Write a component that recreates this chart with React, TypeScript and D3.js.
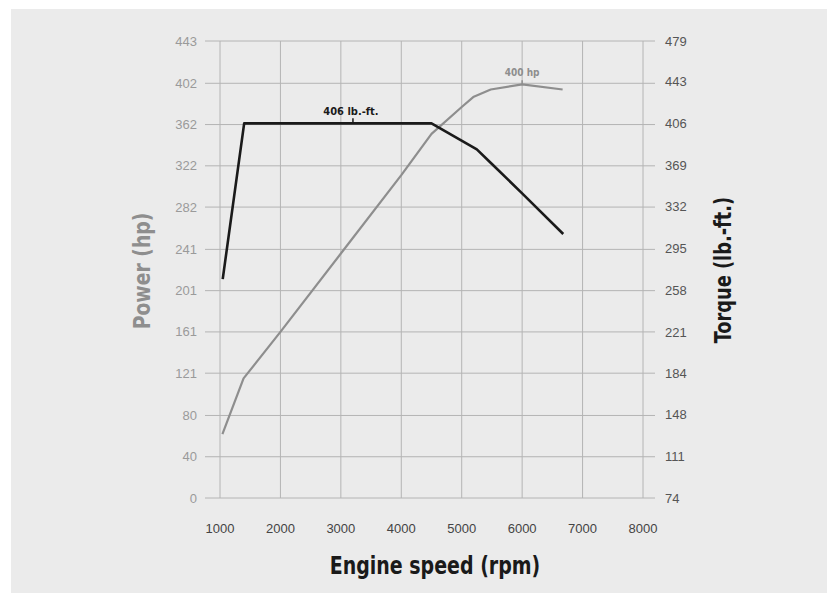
import React, { useEffect, useRef } from "react";
import * as d3 from "d3";

// engine speed (rpm) ticks
const rpmTicks = [1000, 2000, 3000, 4000, 5000, 6000, 7000, 8000];
// left axis (hp) and right axis (lb.-ft.) tick labels
const powerTicks = [0, 40, 80, 121, 161, 201, 241, 282, 322, 362, 402, 443];
const torqueTicks = [74, 111, 148, 184, 221, 258, 295, 332, 369, 406, 443, 479];

// power curve
const powerRpm = [1040, 1390, 2000, 3000, 4000, 4500, 5000, 5200, 5480, 6000, 6670];
const powerHp = [62, 116, 161, 237, 313, 353, 379, 389, 396, 401, 396];

// torque curve
const torqueRpm = [1045, 1400, 4500, 5250, 5500, 6000, 6680];
const torqueLbft = [268, 406, 406, 383, 370, 344, 308];

const condensed = "'DejaVu Sans Condensed', 'Liberation Sans Narrow', 'Roboto', sans-serif";
const tickFont = "'Liberation Sans', 'Open Sans', sans-serif";

export default function App() {
  const svgRef = useRef<SVGSVGElement>(null);

  useEffect(() => {
    if (!svgRef.current) return;
    const svg = d3.select(svgRef.current);
    svg.selectAll("*").remove();

    const width = 827;
    const height = 595;

    // panel background
    svg.append("rect").attr("width", width).attr("height", height).attr("fill", "#ffffff");
    svg.append("rect")
      .attr("x", 11).attr("y", 9)
      .attr("width", width - 11).attr("height", 584)
      .attr("fill", "#ebebeb");

    const x = d3.scaleLinear().domain([1000, 8000]).range([220, 643]);
    const yPower = d3.scaleLinear().domain([0, 443]).range([498, 41]);
    const yTorque = d3.scaleLinear().domain([74, 479]).range([498, 41]);

    const grid = svg.append("g").attr("stroke", "#b4b4b4").attr("stroke-width", 1);

    // horizontal grid lines (extend as ticks both sides)
    powerTicks.forEach((t) => {
      grid.append("line")
        .attr("x1", 205).attr("x2", 655)
        .attr("y1", yPower(t)).attr("y2", yPower(t));
    });
    // vertical grid lines
    rpmTicks.forEach((t) => {
      grid.append("line")
        .attr("x1", x(t)).attr("x2", x(t))
        .attr("y1", yPower(443)).attr("y2", yPower(0));
    });

    // left tick labels
    svg.append("g")
      .selectAll("text")
      .data(powerTicks)
      .join("text")
      .attr("x", 197)
      .attr("y", (d) => yPower(d))
      .attr("dy", "0.35em")
      .attr("text-anchor", "end")
      .attr("fill", "#9a9a9a")
      .style("font-family", tickFont)
      .style("font-size", "13px")
      .text((d) => d);

    // right tick labels
    svg.append("g")
      .selectAll("text")
      .data(torqueTicks)
      .join("text")
      .attr("x", 665)
      .attr("y", (d) => yTorque(d))
      .attr("dy", "0.35em")
      .attr("text-anchor", "start")
      .attr("fill", "#555555")
      .style("font-family", tickFont)
      .style("font-size", "13px")
      .text((d) => d);

    // bottom tick labels
    svg.append("g")
      .selectAll("text")
      .data(rpmTicks)
      .join("text")
      .attr("x", (d) => x(d))
      .attr("y", 528)
      .attr("dy", "0.35em")
      .attr("text-anchor", "middle")
      .attr("fill", "#444444")
      .style("font-family", tickFont)
      .style("font-size", "13px")
      .text((d) => d);

    // power line
    const powerData = powerRpm.map((r, i) => [r, powerHp[i]] as [number, number]);
    svg.append("path")
      .datum(powerData)
      .attr("fill", "none")
      .attr("stroke", "#8e8e8e")
      .attr("stroke-width", 2.2)
      .attr("stroke-linejoin", "round")
      .attr("d", d3.line<[number, number]>().x((d) => x(d[0])).y((d) => yPower(d[1])));

    // torque line
    const torqueData = torqueRpm.map((r, i) => [r, torqueLbft[i]] as [number, number]);
    svg.append("path")
      .datum(torqueData)
      .attr("fill", "none")
      .attr("stroke", "#1a1a1a")
      .attr("stroke-width", 2.6)
      .attr("stroke-linejoin", "round")
      .attr("d", d3.line<[number, number]>().x((d) => x(d[0])).y((d) => yTorque(d[1])));

    // torque peak annotation
    svg.append("line")
      .attr("x1", x(3200)).attr("x2", x(3200))
      .attr("y1", yTorque(406) - 5).attr("y2", yTorque(406))
      .attr("stroke", "#1a1a1a").attr("stroke-width", 1.5);
    svg.append("text")
      .attr("x", x(3200) - 2)
      .attr("y", yTorque(406) - 8)
      .attr("text-anchor", "middle")
      .attr("fill", "#1a1a1a")
      .style("font-family", condensed)
      .style("font-weight", "bold")
      .style("font-size", "11px")
      .text("406 lb.-ft.");

    // power peak annotation
    svg.append("line")
      .attr("x1", x(6000)).attr("x2", x(6000))
      .attr("y1", yPower(401) - 4).attr("y2", yPower(401))
      .attr("stroke", "#8e8e8e").attr("stroke-width", 1.5);
    svg.append("text")
      .attr("x", x(6000))
      .attr("y", yPower(401) - 8)
      .attr("text-anchor", "middle")
      .attr("fill", "#8e8e8e")
      .style("font-family", condensed)
      .style("font-weight", "bold")
      .style("font-size", "10px")
      .text("400 hp");

    // axis titles (squeezed to mimic a heavy condensed face)
    svg.append("text")
      .attr("transform", `translate(150, 271) rotate(-90) scale(0.95, 1.05)`)
      .attr("text-anchor", "middle")
      .attr("fill", "#8e8e8e")
      .style("font-family", condensed)
      .style("font-weight", "bold")
      .style("font-size", "22px")
      .text("Power (hp)");

    svg.append("text")
      .attr("transform", `translate(731, 270) rotate(-90) scale(0.9, 1.05)`)
      .attr("text-anchor", "middle")
      .attr("fill", "#1a1a1a")
      .style("font-family", condensed)
      .style("font-weight", "bold")
      .style("font-size", "22px")
      .text("Torque (lb.-ft.)");

    svg.append("text")
      .attr("transform", `translate(435, 574) scale(0.88, 1.05)`)
      .attr("text-anchor", "middle")
      .attr("fill", "#1a1a1a")
      .style("font-family", condensed)
      .style("font-weight", "bold")
      .style("font-size", "24px")
      .text("Engine speed (rpm)");
  }, []);

  return (
    <svg
      ref={svgRef}
      width={827}
      height={595}
      style={{ position: "absolute", left: 0, top: 0, display: "block" }}
    />
  );
}
